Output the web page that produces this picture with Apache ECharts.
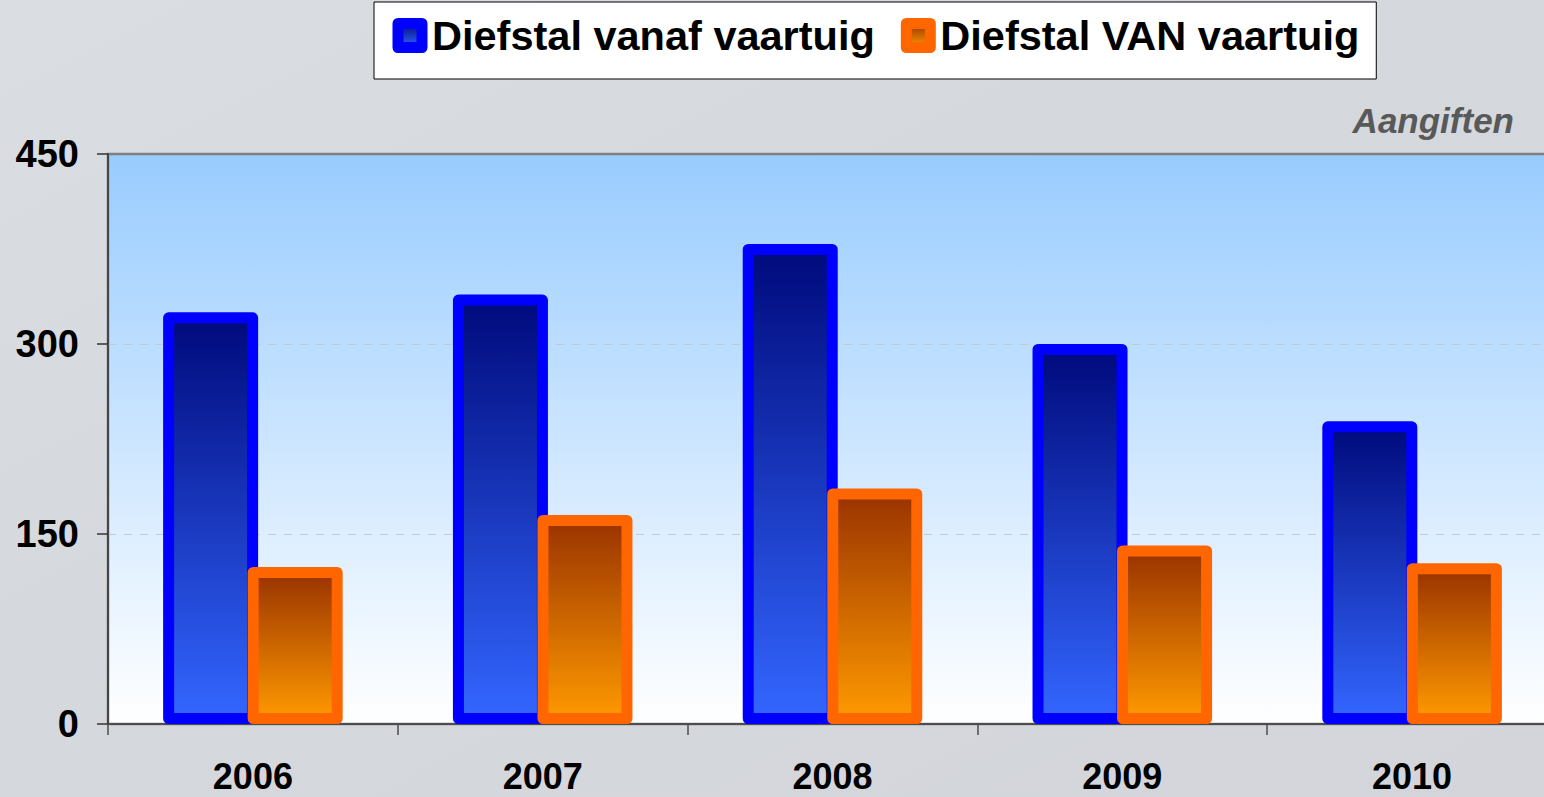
<!DOCTYPE html>
<html>
<head>
<meta charset="utf-8">
<title>Diefstal vaartuig</title>
<script src="https://cdn.jsdelivr.net/npm/echarts@6/dist/echarts.min.js"></script>
<style>
  html, body { margin: 0; padding: 0; }
  #chart { width: 1544px; height: 797px; }
</style>
</head>
<body>
<div id="chart"></div>
<script>
// data
var years = ['2006', '2007', '2008', '2009', '2010'];
var vanaf = [325, 339, 379, 300, 239];
var van = [124, 165, 186, 141, 127];
var seriesNames = ['Diefstal vanaf vaartuig', 'Diefstal VAN vaartuig'];

var font = "'Liberation Sans', Arial, sans-serif";

function grad(top, bottom){
    return new echarts.graphic.LinearGradient(0, 0, 0, 1, [
        {offset: 0, color: top},
        {offset: 1, color: bottom}
    ]);
}

var blueFill = grad('#000a7c', '#3366ff');
var orangeFill = grad('#993300', '#ff9900');

var myChart = echarts.init(document.getElementById('chart'), null, {renderer: 'svg'});
myChart.setOption({
    backgroundColor: new echarts.graphic.LinearGradient(0, 0, 1, 1, [
        {offset: 0, color: '#dadde1'},
        {offset: 0.45, color: '#d5d8dd'},
        {offset: 1, color: '#d3d5da'}
    ]),
    animation: false,
    textStyle: {fontFamily: font},
    grid: {
        left: 108,
        width: 1449,   // plot runs a bit past the right edge
        top: 154,
        bottom: 73,
        outerBoundsMode: 'none',
        show: true,
        backgroundColor: grad('#99ccff', '#ffffff'),
        borderColor: '#7f7f7f',
        borderWidth: 2.5
    },
    legend: {
        left: 374,
        top: 2,
        padding: [9.5, 17, 19.5, 18.5],
        backgroundColor: '#ffffff',
        borderColor: '#000000',
        borderWidth: 1,
        itemWidth: 24,
        itemHeight: 24,
        itemGap: 26,
        icon: 'rect',
        textStyle: {
            fontSize: 41.5,
            lineHeight: 48,
            fontWeight: 'bold',
            color: '#000000',
            fontFamily: font,
            padding: [0, 0, 0, 5]
        },
        data: [
            {name: seriesNames[0], itemStyle: {color: blueFill, borderColor: '#0000ff', borderWidth: 11, borderJoin: 'round'}},
            {name: seriesNames[1], itemStyle: {color: orangeFill, borderColor: '#ff6600', borderWidth: 11, borderJoin: 'round'}}
        ]
    },
    graphic: [{
        type: 'text',
        right: 30,
        top: 103,
        style: {
            text: 'Aangiften',
            fontSize: 35,
            fontWeight: 'bold',
            fontStyle: 'italic',
            fontFamily: font,
            fill: '#595959'
        }
    }],
    xAxis: {
        type: 'category',
        data: years,
        axisLine: {lineStyle: {color: '#4d4d4d', width: 2}},
        axisTick: {show: true, length: 11, lineStyle: {color: '#4d4d4d', width: 1.5}},
        axisLabel: {
            fontSize: 36,
            fontWeight: 'bold',
            color: '#000000',
            margin: 34
        }
    },
    yAxis: {
        type: 'value',
        min: 0,
        max: 450,
        interval: 150,
        axisLine: {show: true, lineStyle: {color: '#333333', width: 1.5}},
        axisTick: {show: true, length: 11, lineStyle: {color: '#333333', width: 1.5}},
        axisLabel: {
            fontSize: 38,
            fontWeight: 'bold',
            color: '#000000',
            margin: 29
        },
        splitLine: {
            show: true,
            showMaxLine: false,
            lineStyle: {color: '#c8c8c8', type: [8, 8], width: 1}
        }
    },
    series: [
        {
            name: seriesNames[0],
            type: 'bar',
            data: vanaf,
            barWidth: 95,
            barGap: '-11%',
            itemStyle: {
                color: blueFill,
                borderColor: '#0000ff',
                borderWidth: 11,
                borderJoin: 'round'
            }
        },
        {
            name: seriesNames[1],
            type: 'bar',
            data: van,
            barWidth: 95,
            barGap: '-11%',
            itemStyle: {
                color: orangeFill,
                borderColor: '#ff6600',
                borderWidth: 11,
                borderJoin: 'round'
            }
        }
    ]
});
</script>
</body>
</html>
